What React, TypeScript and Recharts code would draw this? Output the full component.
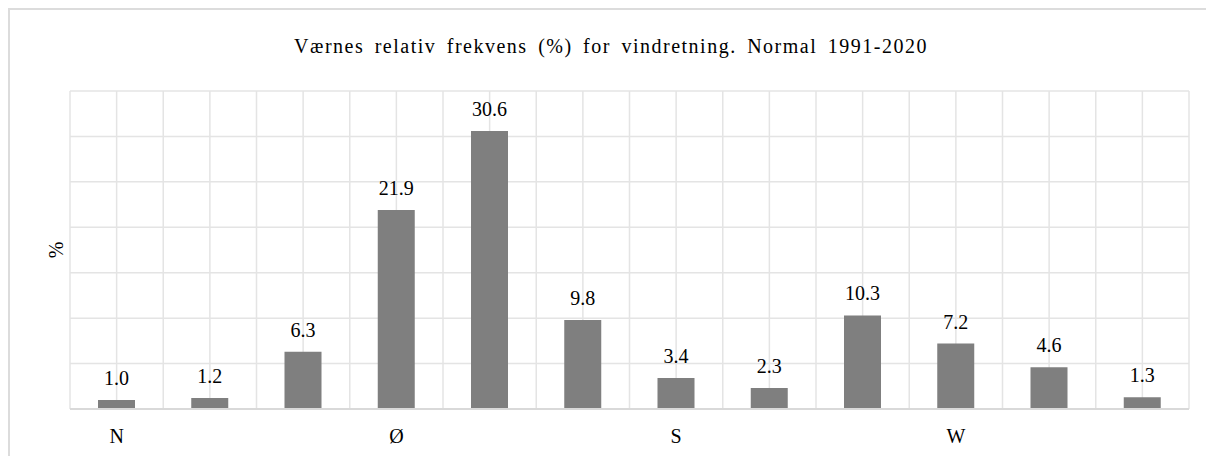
import { BarChart, Bar, XAxis, YAxis, CartesianGrid, LabelList } from 'recharts';

// wind direction sectors, 30 degrees each; only the four main ones are labelled
const sectors = ['N', '', '', 'Ø', '', '', 'S', '', '', 'W', '', ''];
const frequency = [1.0, 1.2, 6.3, 21.9, 30.6, 9.8, 3.4, 2.3, 10.3, 7.2, 4.6, 1.3];
const yTicks = [0, 5, 10, 15, 20, 25, 30, 35];

const title = 'Værnes relativ frekvens (%) for vindretning. Normal 1991-2020';

const data = frequency.map((value, i) => ({ key: i, value }));

const FONT = '"Liberation Serif"';
const GRID = '#e4e4e4';
// serif face only renders up to about 20px in this environment
const LABEL_SIZE = 20;

// vertical lines at every half sector, i.e. both edges and centre of each category
const halfSectorLines = ({ offset }: any) => {
  const n = frequency.length * 2;
  const step = offset.width / n;
  return Array.from({ length: n + 1 }, (_, i) => offset.left + i * step);
};

const noTick = () => <g />;

function SerifText({ x, y, size, angle = 0, children }: any) {
  return (
    <text x={x} y={y} transform={`rotate(${angle} ${x} ${y})`} textAnchor="middle" fontFamily={FONT} fontSize={size} fill="#000">
      {children}
    </text>
  );
}

const renderTick = ({ x, y, payload }: any) => (
  <SerifText x={x} y={y + 34} size={LABEL_SIZE}>{sectors[payload.value]}</SerifText>
);

const renderValue = ({ x, y, width, value }: any) => (
  <SerifText x={x + width / 2} y={y - 15} size={LABEL_SIZE}>{Number(value).toFixed(1)}</SerifText>
);

const renderUnit = ({ viewBox }: any) => (
  <SerifText x={viewBox.x + viewBox.width - 7.5} y={viewBox.y + viewBox.height / 2} size={LABEL_SIZE} angle={-90}>
    %
  </SerifText>
);

export default function App() {
  return (
    <div style={{ position: 'relative', width: 1206, height: 448 }}>
      <div
        style={{
          position: 'absolute',
          left: 0,
          top: 0,
          width: 1220,
          height: 470,
          borderLeft: '2px solid #dcdcdc',
          borderTop: '2px solid #dcdcdc',
          boxSizing: 'border-box',
        }}
      />
      <div
        style={{
          position: 'absolute',
          left: 0,
          top: 26,
          width: 1206,
          textAlign: 'center',
          fontFamily: FONT,
          fontSize: 20,
          lineHeight: '24px',
          letterSpacing: '1.5px',
          wordSpacing: '4px',
          color: '#000',
          whiteSpace: 'nowrap',
        }}
      >
        {title}
      </div>
      <div style={{ position: 'absolute', left: 0, top: 0 }}>
        <BarChart width={1206} height={448} data={data} margin={{ top: 83, right: 25, bottom: 0, left: 30 }}>
          <CartesianGrid stroke={GRID} strokeWidth={1.5} verticalCoordinatesGenerator={halfSectorLines} />
          <XAxis
            dataKey="key"
            height={47}
            tickLine={false}
            tickSize={0}
            tickMargin={0}
            axisLine={{ stroke: '#d9d9d9', strokeWidth: 2 }}
            tick={renderTick}
            interval={0}
          />
          <YAxis
            width={32}
            domain={[0, 35]}
            ticks={yTicks}
            tick={noTick}
            tickLine={false}
            axisLine={false}
            label={{ content: renderUnit }}
          />
          <Bar dataKey="value" fill="#7f7f7f" barSize={37} isAnimationActive={false}>
            <LabelList dataKey="value" content={renderValue} />
          </Bar>
        </BarChart>
      </div>
    </div>
  );
}
